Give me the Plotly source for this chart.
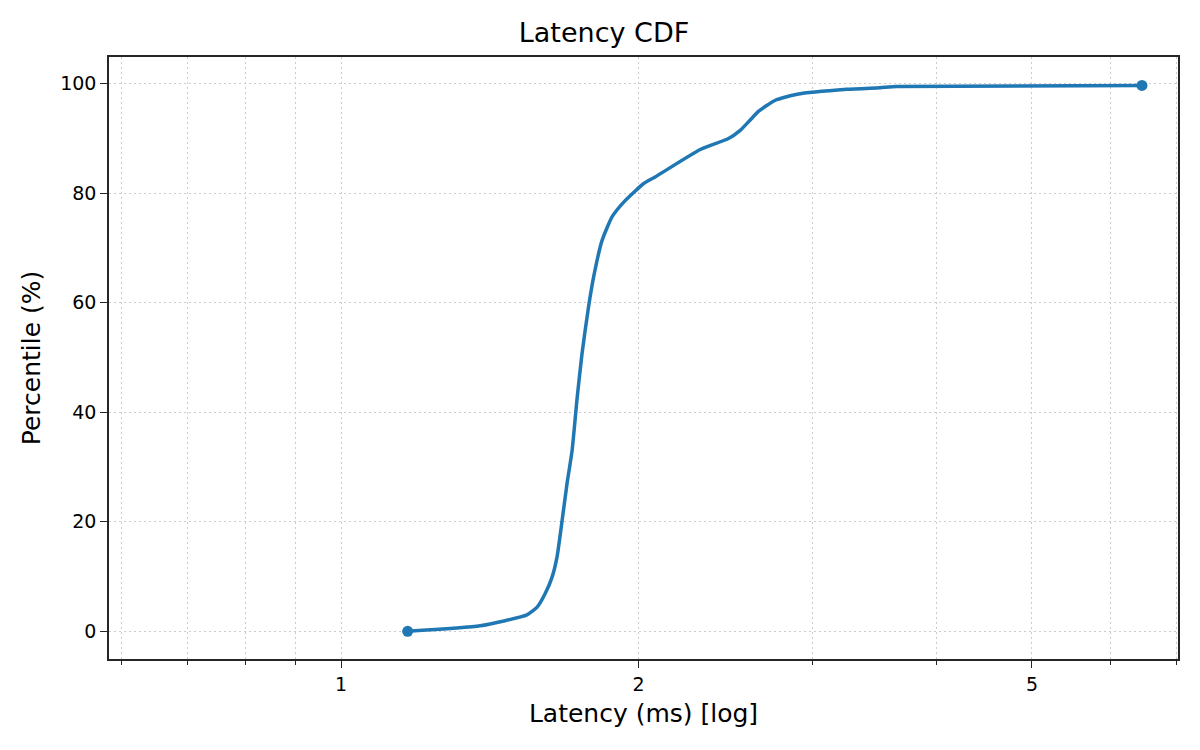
import plotly.graph_objects as go

# latency percentiles
latency_ms = [1.168, 1.383, 1.542, 1.579, 1.609, 1.635, 1.654, 1.673, 1.693, 1.713,
              1.733, 1.753, 1.780, 1.801, 1.837, 1.880, 1.932, 2.024, 2.079, 2.309,
              2.466, 2.534, 2.594, 2.646, 2.750, 2.893, 3.25, 3.51, 3.65, 6.46]
percentile = [0, 1, 3, 4.4, 6.9, 9.9, 13.6, 20, 27, 33,
              42.5, 50.7, 59.3, 64.7, 71.4, 75.7, 78.4, 81.8, 83, 88,
              90, 91.5, 93.4, 95, 97, 98.1, 99.0, 99.3, 99.5, 99.7]

x_major = [1, 2, 5]
x_minor = [0.6, 0.7, 0.8, 0.9, 3, 4, 6, 7]
y_ticks = [0, 20, 40, 60, 80, 100]

BLUE = "#1f77b4"
AXIS = "#262626"
GRID = "#cccccc"
DOTS = "2px,3px"

# page body keeps its default 8px margin, so the figure is a bit smaller
W, H = 1192, 742

fig = go.Figure()
fig.add_trace(go.Scatter(
    x=latency_ms, y=percentile, mode="lines",
    line=dict(color=BLUE, width=3.5, shape="spline", smoothing=0.5),
    showlegend=False,
))
fig.add_trace(go.Scatter(
    x=[latency_ms[0], latency_ms[-1]], y=[percentile[0], percentile[-1]],
    mode="markers", marker=dict(color=BLUE, size=11), showlegend=False,
))

fig.update_layout(
    width=W, height=H,
    margin=dict(l=101, r=22, t=49, b=91),
    paper_bgcolor="white", plot_bgcolor="white",
    font=dict(family="DejaVu Sans", color="black", size=19),
    title=dict(text="Latency CDF", x=0.5, xanchor="center",
               y=1 - 25 / H, yanchor="middle", yref="container",
               font=dict(size=27)),
)
fig.update_xaxes(
    type="log", range=[-0.2347, 0.8467],
    tickvals=x_major, ticktext=[str(v) for v in x_major],
    ticks="outside", ticklen=7, tickwidth=1.3, tickcolor=AXIS,
    showline=True, mirror=True, linecolor=AXIS, linewidth=1.5,
    showgrid=True, gridcolor=GRID, griddash=DOTS, gridwidth=1,
    minor=dict(tickvals=x_minor, ticks="outside", ticklen=4, tickwidth=1,
               tickcolor=AXIS, showgrid=True, gridcolor=GRID, griddash=DOTS),
    zeroline=False,
    title=dict(text="Latency (ms) [log]", font=dict(size=25), standoff=11),
)
fig.update_yaxes(
    range=[-5.06, 104.9], tickvals=y_ticks,
    ticks="outside", ticklen=7, tickwidth=1.3, tickcolor=AXIS,
    showline=True, mirror=True, linecolor=AXIS, linewidth=1.5,
    showgrid=True, gridcolor=GRID, griddash=DOTS, gridwidth=1,
    zeroline=False,
    title=dict(text="Percentile (%)", font=dict(size=25), standoff=12),
)

fig.write_html("out.html")
